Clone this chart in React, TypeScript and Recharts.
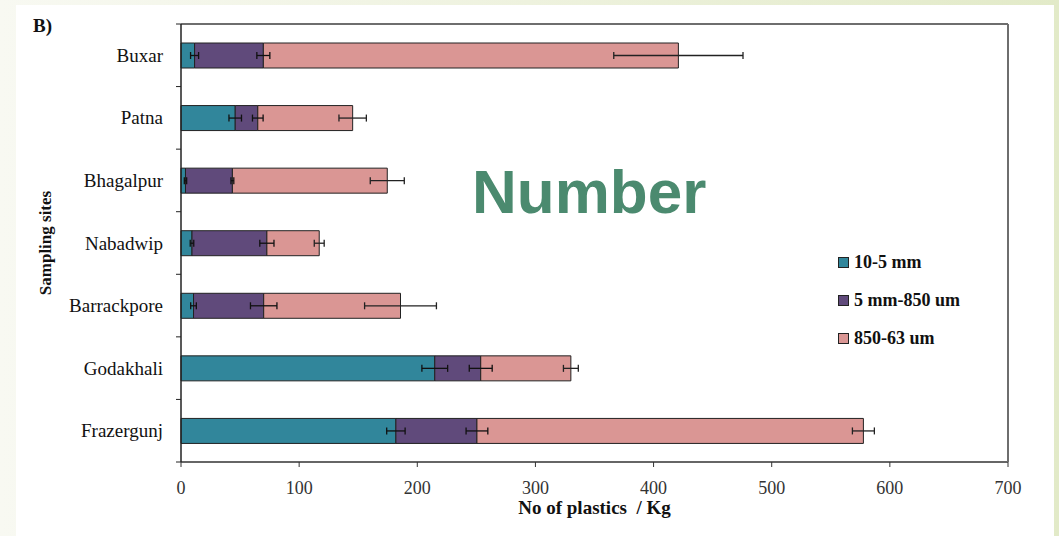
import React from "react";
import { BarChart, Bar, XAxis, YAxis, ErrorBar, Legend } from "recharts";

// sampling sites, top to bottom
const sites = ["Buxar", "Patna", "Bhagalpur", "Nabadwip", "Barrackpore", "Godakhali", "Frazergunj"];

// mean number of plastics per kg, by size class
const coarse = [11.5, 45.9, 3.8, 9.3, 10.6, 214.8, 181.9];
const medium = [58.2, 19.1, 39.7, 63.4, 59.4, 38.9, 68.6];
const fine = [351.3, 80.3, 131.1, 44.3, 115.8, 76.3, 327.1];

// standard errors
const coarseErr = [3.4, 5.3, 1.0, 1.5, 2.4, 10.9, 7.8];
const mediumErr = [5.5, 4.5, 1.2, 6.0, 11.2, 9.7, 9.2];
const fineErr = [54.7, 11.6, 14.4, 4.2, 30.4, 6.3, 9.3];

const xTicks = [0, 100, 200, 300, 400, 500, 600, 700];

const seriesNames = ["10-5 mm", "5 mm-850 um", "850-63 um"];
const seriesColors = ["#31869b", "#604a7b", "#da9694"];

const serif = '"Liberation Serif", "Times New Roman", serif';
const LABEL_GAP = 18;

const data = sites.map((site, i) => ({
  site,
  coarse: coarse[i],
  medium: medium[i],
  fine: fine[i],
  coarseErr: coarseErr[i],
  mediumErr: mediumErr[i],
  fineErr: fineErr[i],
}));

// site name plus a short tick on the band edge (category ticks sit between sites)
const SiteTick = (props: any) => {
  const { x, y, payload, index, visibleTicksCount } = props;
  const axisX = x + LABEL_GAP;
  const half = payload.offset || 0;
  const last = index === visibleTicksCount - 1;
  return (
    <g>
      <line x1={axisX - 5} x2={axisX} y1={y - half} y2={y - half} stroke="#222" />
      {last && <line x1={axisX - 5} x2={axisX} y1={y + half} y2={y + half} stroke="#222" />}
      <text x={x} y={y} textAnchor="end" dominantBaseline="central" fontFamily={serif} fontSize={19} fill="#111">
        {payload.value}
      </text>
    </g>
  );
};

const renderLegend = (props: any) => {
  const { payload } = props;
  return (
    <div style={{ fontFamily: serif, fontWeight: 700, fontSize: 18, color: "#111" }}>
      {payload.map((entry: any) => (
        <div key={entry.value} style={{ display: "flex", alignItems: "center", height: 38 }}>
          <span
            style={{
              display: "inline-block",
              width: 9,
              height: 9,
              background: entry.color,
              border: "1px solid #222",
              marginRight: 5,
            }}
          />
          <span style={{ whiteSpace: "pre" }}>{entry.value}</span>
        </div>
      ))}
    </div>
  );
};

const YTitle = (props: any) => {
  const { viewBox } = props;
  const cx = viewBox.x + 45;
  const cy = viewBox.y + viewBox.height / 2;
  return (
    <text
      x={cx}
      y={cy}
      transform={`rotate(-90 ${cx} ${cy})`}
      textAnchor="middle"
      dominantBaseline="central"
      fontFamily={serif}
      fontWeight={700}
      fontSize={17}
      fill="#111"
    >
      Sampling sites
    </text>
  );
};

export default function App() {
  return (
    <div
      style={{
        position: "absolute",
        left: 0,
        top: 0,
        width: 1059,
        height: 536,
        background: "linear-gradient(90deg, #f8f9f2 0%, #eef2de 50%, #e2eac8 100%)",
        overflow: "hidden",
      }}
    >
      <div style={{ position: "absolute", left: 16, top: 5, width: 1038, height: 531, background: "#fff" }} />
      <div
        style={{
          position: "absolute",
          left: 33,
          top: 15,
          fontFamily: serif,
          fontWeight: 700,
          fontSize: 19,
          color: "#111",
        }}
      >
        B)
      </div>
      <div style={{ position: "absolute", left: 0, top: 0 }}>
        <BarChart
          width={1059}
          height={536}
          data={data}
          layout="vertical"
          margin={{ top: 23, right: 50, bottom: 44, left: 0 }}
          barSize={25}
        >
          <XAxis
            type="number"
            domain={[0, 700]}
            ticks={xTicks}
            height={30}
            tickSize={5}
            tickMargin={14}
            axisLine={{ stroke: "#333", strokeWidth: 1.5 }}
            tickLine={{ stroke: "#333" }}
            tick={{ fontFamily: serif, fontSize: 18, fill: "#333" }}
            label={{
              value: "No of plastics\u00a0 / Kg",
              position: "bottom",
              offset: 9,
              style: { fontFamily: serif, fontWeight: 700, fontSize: 19, fill: "#111" },
            }}
          />
          <XAxis
            xAxisId="top"
            orientation="top"
            type="number"
            domain={[0, 700]}
            height={1}
            tick={false}
            tickLine={false}
            axisLine={{ stroke: "#6e6e6e", strokeWidth: 2 }}
          />
          <YAxis
            type="category"
            dataKey="site"
            width={181}
            tickSize={0}
            tickMargin={LABEL_GAP}
            axisLine={{ stroke: "#222", strokeWidth: 1.5 }}
            tickLine={false}
            tick={<SiteTick />}
            label={{ content: YTitle }}
          />
          <YAxis
            yAxisId="right"
            orientation="right"
            type="category"
            dataKey="site"
            width={1}
            tick={false}
            tickLine={false}
            axisLine={{ stroke: "#6e6e6e", strokeWidth: 2 }}
          />
          <Legend
            layout="horizontal"
            align="center"
            verticalAlign="middle"
            content={renderLegend}
            wrapperStyle={{ left: 838, top: 243, width: 200 }}
          />
          <Bar dataKey="coarse" name={seriesNames[0]} stackId="s" fill={seriesColors[0]} stroke="#222" strokeWidth={1} isAnimationActive={false}>
            <ErrorBar dataKey="coarseErr" direction="x" width={3.5} stroke="#111" strokeWidth={1.3} />
          </Bar>
          <Bar dataKey="medium" name={seriesNames[1]} stackId="s" fill={seriesColors[1]} stroke="#222" strokeWidth={1} isAnimationActive={false}>
            <ErrorBar dataKey="mediumErr" direction="x" width={3.5} stroke="#111" strokeWidth={1.3} />
          </Bar>
          <Bar dataKey="fine" name={seriesNames[2]} stackId="s" fill={seriesColors[2]} stroke="#222" strokeWidth={1} isAnimationActive={false}>
            <ErrorBar dataKey="fineErr" direction="x" width={3.5} stroke="#222" strokeWidth={1.3} />
          </Bar>
        </BarChart>
      </div>
      <div
        style={{
          position: "absolute",
          left: 472,
          top: 156,
          fontFamily: '"Liberation Sans", Arial, sans-serif',
          fontWeight: 700,
          fontSize: 62,
          color: "#4b8a6f",
          lineHeight: "72px",
        }}
      >
        Number
      </div>
    </div>
  );
}
